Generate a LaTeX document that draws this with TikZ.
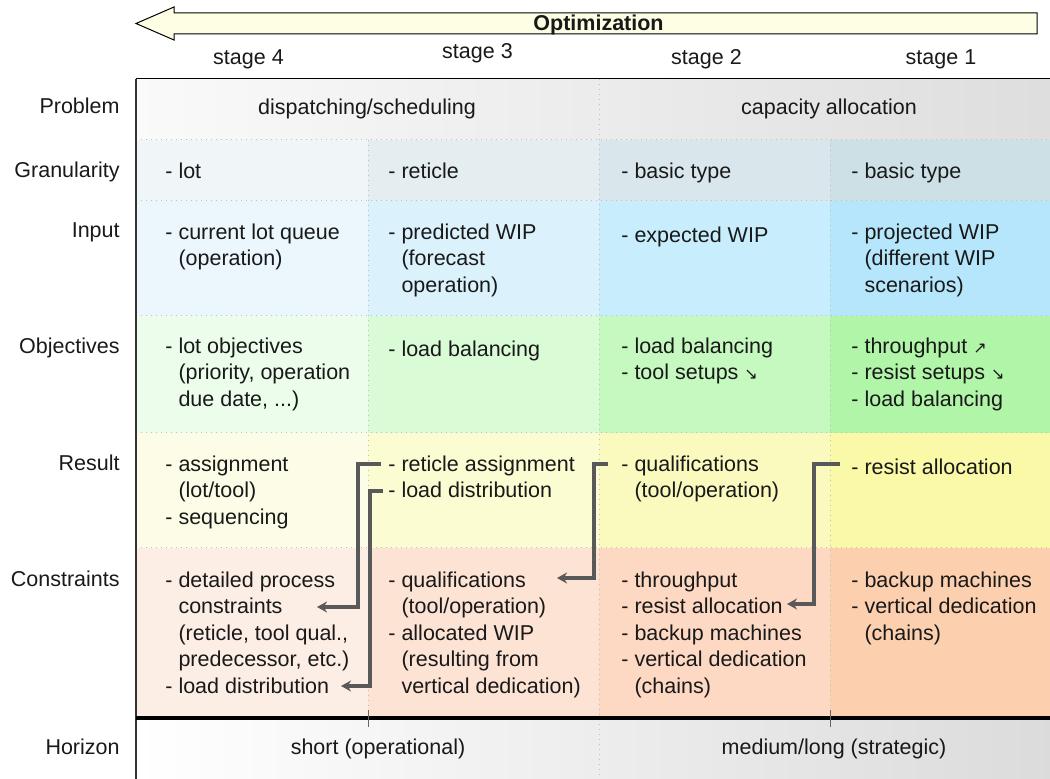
\documentclass[tikz,border=0pt]{standalone}
\usepackage{fontspec}
\setmainfont{Liberation Sans}
\newfontfamily\arrowfont{DejaVu Sans}
\usetikzlibrary{arrows.meta}

\definecolor{optfill}{HTML}{FEFEE4}
\definecolor{gran1}{HTML}{F0F5F7}
\definecolor{gran2}{HTML}{E4EDF0}
\definecolor{gran3}{HTML}{D9E7EC}
\definecolor{gran4}{HTML}{CDE0E6}
\definecolor{input1}{HTML}{EBF7FD}
\definecolor{input2}{HTML}{DBF2FC}
\definecolor{input3}{HTML}{C8EEFD}
\definecolor{input4}{HTML}{B6E6FB}
\definecolor{obj1}{HTML}{ECFDEC}
\definecolor{obj2}{HTML}{D9FBD5}
\definecolor{obj3}{HTML}{C5F9BF}
\definecolor{obj4}{HTML}{B0F5A8}
\definecolor{res1}{HTML}{FDFDE7}
\definecolor{res2}{HTML}{FCFCD2}
\definecolor{res3}{HTML}{FAFABE}
\definecolor{res4}{HTML}{F9F9A8}
\definecolor{con1}{HTML}{FDEEE5}
\definecolor{con2}{HTML}{FDE3D4}
\definecolor{con3}{HTML}{FDD9C3}
\definecolor{con4}{HTML}{FCCFAF}

\newcommand{\ind}{\phantom{- }}
\newcommand{\arrup}{{\arrowfont\fontsize{8pt}{13.25pt}\selectfont ↗}}
\newcommand{\arrdown}{{\arrowfont\fontsize{8pt}{13.25pt}\selectfont ↘}}

\begin{document}
\begin{tikzpicture}[x=0.5pt, y=-0.5pt, > = {Stealth[length=5pt, width=5.5pt]},
every node/.style={font=\fontsize{10.75pt}{13.25pt}\selectfont, text=black!90, inner sep=0pt},
cell/.style={anchor=north west, align=left, yshift=7.275pt, execute at begin node=\strut},
rowlabel/.style={anchor=base east},
grid/.style={dotted, line width=0.5pt, black!25},
link/.style={->, line width=2pt, black!65},
]
	\useasboundingbox (0,0) rectangle (1050,779);

	% backgrounds
	\shade[left color=black!2, right color=black!13] (136,79) rectangle (1050,140); % problem
	\fill[gran1] (136,140) rectangle (368,201);
	\fill[gran2] (368,140) rectangle (599,201);
	\fill[gran3] (599,140) rectangle (830,201);
	\fill[gran4] (830,140) rectangle (1050,201);
	\fill[input1] (136,201) rectangle (368,316);
	\fill[input2] (368,201) rectangle (599,316);
	\fill[input3] (599,201) rectangle (830,316);
	\fill[input4] (830,201) rectangle (1050,316);
	\fill[obj1] (136,316) rectangle (368,433);
	\fill[obj2] (368,316) rectangle (599,433);
	\fill[obj3] (599,316) rectangle (830,433);
	\fill[obj4] (830,316) rectangle (1050,433);
	\fill[res1] (136,433) rectangle (368,548);
	\fill[res2] (368,433) rectangle (599,548);
	\fill[res3] (599,433) rectangle (830,548);
	\fill[res4] (830,433) rectangle (1050,548);
	\fill[con1] (136,548) rectangle (368,718);
	\fill[con2] (368,548) rectangle (599,718);
	\fill[con3] (599,548) rectangle (830,718);
	\fill[con4] (830,548) rectangle (1050,718);
	\shade[left color=white, right color=black!14] (136,718) rectangle (1050,779); % horizon

	% grid
	\draw[grid] (136,140) -- (1050,140) (136,201) -- (1050,201) (136,316) -- (1050,316);
	\draw[grid] (136,433) -- (1050,433) (136,548) -- (1050,548);
	\draw[grid] (368,140) -- (368,718) (830,140) -- (830,718);
	\draw[grid] (599,79) -- (599,779);
	\draw[line width=0.5pt] (136,79) -- (1050,79); % top line
	\draw[line width=0.75pt, black!80] (136,79) -- (136,779); % left line
	\draw[line width=2pt] (136,718) -- (1050,718); % horizon line
	\draw[line width=0.5pt, black!60] (368,710) -- (368,727) (830,710) -- (830,727);

	% optimization arrow
	\draw[fill=optfill, line width=0.5pt] (1037,13) -- (174,13) -- (174,7) -- (136,23.5) -- (174,40) -- (174,34) -- (1037,34) -- cycle;
	\node[anchor=base, font=\fontsize{10.75pt}{13.25pt}\selectfont\bfseries] (opt) at (598.5,31) {Optimization};

	\node[anchor=base] (stage-4) at (248.5,65) {stage 4};
	\node[anchor=base] (stage-3) at (477.5,59) {stage 3};
	\node[anchor=base] (stage-2) at (706.5,65) {stage 2};
	\node[anchor=base] (stage-1) at (941,65) {stage 1};

	% row labels
	\node[rowlabel] (l-problem) at (120,114) {Problem};
	\node[rowlabel] (l-gran) at (120,178) {Granularity};
	\node[rowlabel] (l-input) at (120,238) {Input};
	\node[rowlabel] (l-obj) at (120,354) {Objectives};
	\node[rowlabel] (l-result) at (120,471) {Result};
	\node[rowlabel] (l-con) at (120,587) {Constraints};
	\node[rowlabel] (l-horizon) at (120,755) {Horizon};

	\node[anchor=base] (prob-1) at (367,115) {dispatching/scheduling};
	\node[anchor=base] (prob-2) at (829,115) {capacity allocation};

	\node[cell] (gran-1) at (165,174) {- lot};
	\node[cell] (gran-2) at (388,174) {- reticle};
	\node[cell] (gran-3) at (621,174) {- basic type};
	\node[cell] (gran-4) at (851,174) {- basic type};

	\node[cell] (input-1) at (165,238) {- current lot queue\\\ind(operation)};
	\node[cell] (input-2) at (388,238) {- predicted WIP\\\ind(forecast\\\ind operation)};
	\node[cell] (input-3) at (621,238) {- expected WIP};
	\node[cell] (input-4) at (851,238) {- projected WIP\\\ind(different WIP\\\ind scenarios)};

	\node[cell] (obj-1) at (165,352) {- lot objectives\\\ind(priority, operation\\\ind due date, ...)};
	\node[cell] (obj-2) at (388,352) {- load balancing};
	\node[cell] (obj-3) at (621,352) {- load balancing\\- tool setups \arrdown};
	\node[cell] (obj-4) at (851,352) {- throughput \arrup\\- resist setups \arrdown\\- load balancing};

	\node[cell] (res-1) at (165,470) {- assignment\\\ind(lot/tool)\\- sequencing};
	\node[cell] (res-2) at (388,470) {- reticle assignment\\- load distribution};
	\node[cell] (res-3) at (621,470) {- qualifications\\\ind(tool/operation)};
	\node[cell] (res-4) at (851,470) {- resist allocation};

	\node[cell] (con-1) at (165,586) {- detailed process\\\ind constraints\\\ind(reticle, tool qual.,\\\ind predecessor, etc.)\\- load distribution};
	\node[cell] (con-2) at (388,586) {- qualifications\\\ind(tool/operation)\\- allocated WIP\\\ind(resulting from\\\ind vertical dedication)};
	\node[cell] (con-3) at (621,586) {- throughput\\- resist allocation\\- backup machines\\- vertical dedication\\\ind(chains)};
	\node[cell] (con-4) at (851,586) {- backup machines\\- vertical dedication\\\ind(chains)};

	\node[anchor=base] (hor-1) at (378,755) {short (operational)};
	\node[anchor=base] (hor-2) at (834,755) {medium/long (strategic)};

	% result -> constraints
	\coordinate (to-constraints) at (317,607);
	\coordinate (to-load) at (341,686);
	\coordinate (to-qual) at (557,578);
	\coordinate (to-resist) at (787,604);
	\draw[link] ([shift={(-7,8.5)}]res-2.north west) -- ++(-23,0) |- (to-constraints);
	\draw[link] ([shift={(-5,35.5)}]res-2.north west) -- ++(-13,0) |- (to-load);
	\draw[link] ([shift={(-13,8.5)}]res-3.north west) -- ++(-14,0) |- (to-qual);
	\draw[link] ([shift={(-11,8.5)}]res-4.north west) -- ++(-26,0) |- (to-resist);

\end{tikzpicture}
\end{document}
